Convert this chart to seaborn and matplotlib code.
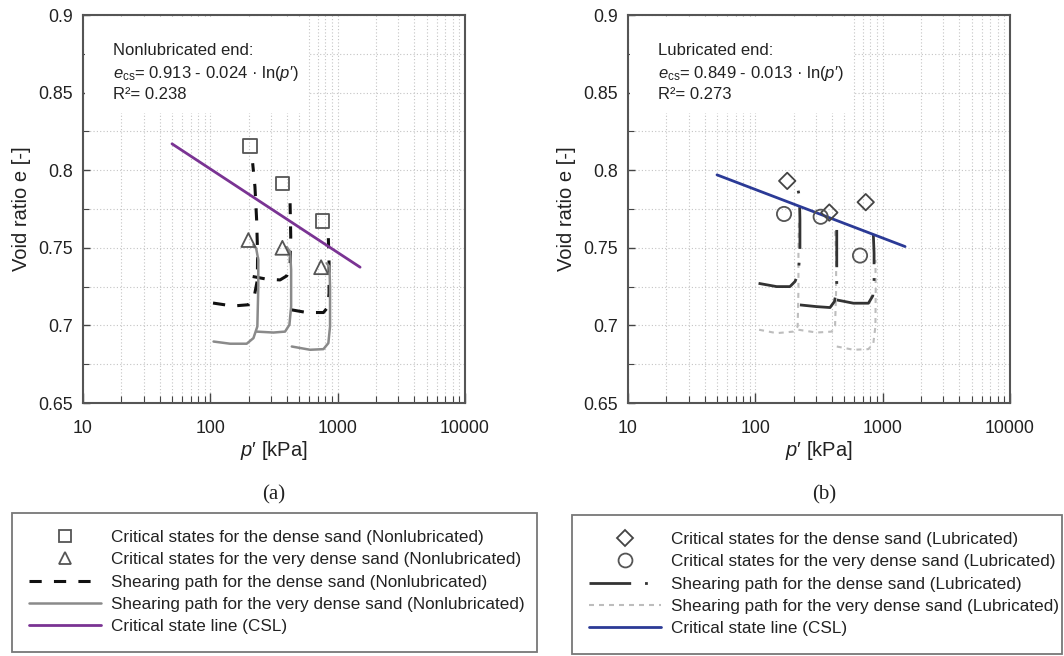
import numpy as np
import pandas as pd
import matplotlib
matplotlib.use("Agg")
import matplotlib.pyplot as plt
import seaborn as sns
from matplotlib.lines import Line2D
from matplotlib.patches import Rectangle
from matplotlib.ticker import FixedLocator, LogLocator, MultipleLocator, NullFormatter, FuncFormatter

# ---------------- data ----------------
X_TICKS = [10, 100, 1000, 10000]
Y_TICKS = [0.65, 0.7, 0.75, 0.8, 0.85, 0.9]

# (a) Nonlubricated end
csl_a_p = [50, 1500]
csl_a_e = [0.817, 0.7375]

sq_p = [205, 370, 764]
sq_e = [0.8156, 0.7912, 0.7673]
tri_p = [199, 368, 741]
tri_e = [0.755, 0.750, 0.7375]

dense_a1_p = [105, 150, 199, 220, 234, 235, 231, 224, 215]
dense_a1_e = [0.7144, 0.7125, 0.7133, 0.7176, 0.7293, 0.7465, 0.768, 0.7894, 0.8045]
dense_a2_p = [215, 277, 353, 398, 423, 428, 423]
dense_a2_e = [0.7315, 0.7298, 0.7293, 0.7319, 0.7379, 0.7572, 0.7787]
dense_a3_p = [436, 571, 773, 836, 856, 856, 845]
dense_a3_e = [0.7100, 0.7083, 0.7083, 0.7117, 0.7207, 0.740, 0.7562]

vdense_a1_p = [106, 143, 193, 218, 234, 238, 238, 229, 218]
vdense_a1_e = [0.6896, 0.6882, 0.6882, 0.6918, 0.6993, 0.725, 0.7422, 0.7497, 0.7518]
vdense_a2_p = [231, 313, 386, 418, 431, 431, 423, 398]
vdense_a2_e = [0.696, 0.6954, 0.696, 0.7004, 0.7122, 0.7358, 0.7476, 0.7504]
vdense_a3_p = [436, 607, 773, 845, 871, 871, 862, 821]
vdense_a3_e = [0.6864, 0.6843, 0.6847, 0.6886, 0.6993, 0.725, 0.7378, 0.740]

# (b) Lubricated end
csl_b_p = [50, 1500]
csl_b_e = [0.797, 0.7508]

dia_p = [178, 381, 736]
dia_e = [0.7931, 0.7727, 0.7794]
circ_p = [168, 326, 664]
circ_e = [0.7718, 0.770, 0.745]

dense_b1_p = [106, 147, 187, 205, 218, 224, 224, 222, 211, 193]
dense_b1_e = [0.7271, 0.725, 0.725, 0.7283, 0.7336, 0.7487, 0.768, 0.783, 0.7916, 0.7942]
dense_b2_p = [224, 303, 386, 418, 436, 436, 436]
dense_b2_e = [0.7132, 0.7121, 0.7115, 0.7154, 0.7229, 0.7443, 0.7615]
dense_b3_p = [436, 589, 773, 836, 856, 856, 845]
dense_b3_e = [0.7164, 0.7143, 0.7143, 0.719, 0.7293, 0.7465, 0.7583]

vdense_b1_p = [107, 147, 199, 215, 218, 218, 220]
vdense_b1_e = [0.6972, 0.695, 0.696, 0.6993, 0.7229, 0.7487, 0.7669]
vdense_b2_p = [218, 303, 398, 423, 431, 431, 423]
vdense_b2_e = [0.6972, 0.6954, 0.696, 0.6997, 0.7229, 0.7443, 0.7626]
vdense_b3_p = [436, 589, 773, 845, 877, 882, 877]
vdense_b3_e = [0.6864, 0.6843, 0.6847, 0.6886, 0.6993, 0.7229, 0.7422]

text_a = "Nonlubricated end:\n$\\mathit{e}_{\\mathrm{cs}}$= 0.913 - 0.024 · ln($\\mathit{p}$′)\nR²= 0.238"
text_b = "Lubricated end:\n$\\mathit{e}_{\\mathrm{cs}}$= 0.849 - 0.013 · ln($\\mathit{p}$′)\nR²= 0.273"

labels_a = [
    "Critical states for the dense sand (Nonlubricated)",
    "Critical states for the very dense sand (Nonlubricated)",
    "Shearing path for the dense sand (Nonlubricated)",
    "Shearing path for the very dense sand (Nonlubricated)",
    "Critical state line (CSL)",
]
labels_b = [
    "Critical states for the dense sand (Lubricated)",
    "Critical states for the very dense sand (Lubricated)",
    "Shearing path for the dense sand (Lubricated)",
    "Shearing path for the very dense sand (Lubricated)",
    "Critical state line (CSL)",
]

# ---------------- style ----------------
sns.set_theme(style="white")
plt.rcParams["font.family"] = ["Liberation Sans", "DejaVu Sans"]
plt.rcParams["mathtext.fontset"] = "custom"
plt.rcParams["mathtext.rm"] = "Liberation Sans"
plt.rcParams["mathtext.it"] = "Liberation Sans:italic"

PURPLE = "#7a3393"
BLUE = "#2b3a96"
DASH_BLACK = dict(color="#111111", linewidth=2.2, linestyle=(0, (4, 4)))
SOLID_GRAY = dict(color="#8a8a8a", linewidth=1.8, linestyle="-")
DASHDOT_DARK = dict(color="#333333", linewidth=2.0, linestyle=(0, (15, 5, 1, 5)))
LIGHT_DASH = dict(color="#bdbdbd", linewidth=1.5, linestyle=(0, (2.4, 2.4)))

W, H = 1064, 656
fig = plt.figure(figsize=(W / 100, H / 100), dpi=100)
axL = fig.add_axes([83 / W, 1 - 403 / H, 382 / W, 388 / H])
axR = fig.add_axes([628 / W, 1 - 403 / H, 382 / W, 388 / H])


def style_axes(ax):
    ax.set_xscale("log")
    ax.set_xlim(10, 10000)
    ax.set_ylim(0.65, 0.9)
    ax.xaxis.set_major_locator(FixedLocator(X_TICKS))
    ax.xaxis.set_major_formatter(FuncFormatter(lambda v, _: f"{v:g}"))
    ax.xaxis.set_minor_locator(LogLocator(base=10, subs=np.arange(2, 10)))
    ax.xaxis.set_minor_formatter(NullFormatter())
    ax.yaxis.set_major_locator(FixedLocator(Y_TICKS))
    ax.yaxis.set_major_formatter(FuncFormatter(lambda v, _: f"{round(v, 3):g}"))
    ax.yaxis.set_minor_locator(MultipleLocator(0.025))
    ax.tick_params(which="both", direction="in", color="#444444", labelcolor="#222222",
                   labelsize=12.8, bottom=True, left=True, top=False, right=False)
    ax.tick_params(axis="x", which="major", length=7, width=1, pad=12)
    ax.tick_params(axis="x", which="minor", length=5, width=0.8)
    ax.tick_params(axis="y", which="major", length=5, width=1, pad=7)
    ax.tick_params(axis="y", which="minor", length=4, width=0.8)
    ax.grid(which="both", linestyle=(0, (1, 2)), color="#c4c4c4", linewidth=0.8)
    ax.set_axisbelow(True)
    for s in ax.spines.values():
        s.set_color("#555555")
        s.set_linewidth(1.5)
    ax.set_xlabel("$\\mathit{p}$′ [kPa]", fontsize=14.5, color="#222222")
    ax.set_ylabel("Void ratio e [-]", fontsize=14.5, color="#222222")
    ax.xaxis.set_label_coords(0.5, -0.093)
    ax.yaxis.set_label_coords(-0.135, 0.5)


def path(ax, p, e, kw):
    sns.lineplot(x=p, y=e, ax=ax, sort=False, estimator=None, legend=False, **kw)


def marks(ax, p, e, marker, size, ec):
    sns.scatterplot(x=p, y=e, ax=ax, marker=marker, s=size, facecolors="none",
                    edgecolors=ec, linewidths=1.3, legend=False, zorder=5)


for ax in (axL, axR):
    style_axes(ax)

# ---- (a)
for p, e in [(dense_a1_p, dense_a1_e), (dense_a2_p, dense_a2_e), (dense_a3_p, dense_a3_e)]:
    path(axL, p, e, DASH_BLACK)
for p, e in [(vdense_a1_p, vdense_a1_e), (vdense_a2_p, vdense_a2_e), (vdense_a3_p, vdense_a3_e)]:
    path(axL, p, e, SOLID_GRAY)
path(axL, csl_a_p, csl_a_e, dict(color=PURPLE, linewidth=2.0))
marks(axL, sq_p, sq_e, "s", 90, "#555555")
marks(axL, tri_p, tri_e, "^", 100, "#555555")

# ---- (b)
for p, e in [(vdense_b1_p, vdense_b1_e), (vdense_b2_p, vdense_b2_e), (vdense_b3_p, vdense_b3_e)]:
    path(axR, p, e, LIGHT_DASH)
for p, e in [(dense_b1_p, dense_b1_e), (dense_b2_p, dense_b2_e), (dense_b3_p, dense_b3_e)]:
    path(axR, p, e, DASHDOT_DARK)
path(axR, csl_b_p, csl_b_e, dict(color=BLUE, linewidth=2.0))
marks(axR, dia_p, dia_e, "D", 70, "#444444")
marks(axR, circ_p, circ_e, "o", 105, "#555555")

# ---- equation boxes
for ax, txt in [(axL, text_a), (axR, text_b)]:
    ax.add_patch(Rectangle((0.004, 0.748), 0.584, 0.248, transform=ax.transAxes,
                           facecolor="white", edgecolor="none", zorder=2))
    ax.text(0.079, 0.927, txt, transform=ax.transAxes, ha="left", va="top",
            fontsize=12, linespacing=1.38, color="#222222", zorder=3)

# ---- captions
fig.text(274 / W, 1 - 495 / H, "(a)", ha="center", va="center", fontsize=15,
         family="Liberation Serif", color="#222222")
fig.text(824 / W, 1 - 495 / H, "(b)", ha="center", va="center", fontsize=15,
         family="Liberation Serif", color="#222222")

# ---- legends
hA = [
    Line2D([], [], linestyle="none", marker="s", markersize=9, markerfacecolor="none",
           markeredgecolor="#555555", markeredgewidth=1.3),
    Line2D([], [], linestyle="none", marker="^", markersize=9, markerfacecolor="none",
           markeredgecolor="#555555", markeredgewidth=1.3),
    Line2D([], [], **DASH_BLACK),
    Line2D([], [], **SOLID_GRAY),
    Line2D([], [], color=PURPLE, linewidth=2.0),
]
hB = [
    Line2D([], [], linestyle="none", marker="D", markersize=8, markerfacecolor="none",
           markeredgecolor="#444444", markeredgewidth=1.3),
    Line2D([], [], linestyle="none", marker="o", markersize=10, markerfacecolor="none",
           markeredgecolor="#555555", markeredgewidth=1.3),
    Line2D([], [], **DASHDOT_DARK),
    Line2D([], [], **LIGHT_DASH),
    Line2D([], [], color=BLUE, linewidth=2.0),
]
for handles, labels, (x0, ytop, wd) in [
    (hA, labels_a, (12 / W, 1 - 513 / H, 525 / W)),
    (hB, labels_b, (572 / W, 1 - 515 / H, 490 / W)),
]:
    leg = fig.legend(handles, labels, loc="upper left", bbox_to_anchor=(x0, ytop, wd, 0),
                     mode="expand", borderaxespad=0, fontsize=12.3, handlelength=4.2,
                     handletextpad=0.62, borderpad=1.0, labelspacing=0.43,
                     fancybox=False, framealpha=1, edgecolor="#777777", labelcolor="#222222")
    leg.get_frame().set_linewidth(1.3)

fig.savefig("out.png", dpi=100)
